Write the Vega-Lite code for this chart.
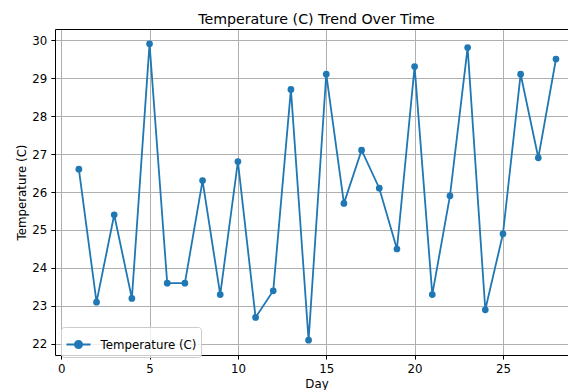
{
  "$schema": "https://vega.github.io/schema/vega-lite/v6.json",
  "autosize": {"type": "none"},
  "padding": {"left": 55, "top": 29, "right": 0, "bottom": 35},
  "width": 513,
  "height": 326,
  "background": "white",
  "title": {
    "text": "Temperature (C) Trend Over Time",
    "font": "DejaVu Sans",
    "fontSize": 14.2,
    "fontWeight": "normal",
    "color": "#000000",
    "baseline": "alphabetic",
    "offset": 7,
    "dx": 5,
    "dy": 16
  },
  "config": {
    "view": {"stroke": null},
    "font": "DejaVu Sans",
    "axis": {
      "labelFont": "DejaVu Sans",
      "labelFontSize": 11.8,
      "labelColor": "#000000",
      "titleFont": "DejaVu Sans",
      "titleFontSize": 11.8,
      "titleFontWeight": "normal",
      "titleColor": "#000000",
      "domainColor": "#000000",
      "domainWidth": 1,
      "tickColor": "#000000",
      "tickWidth": 1,
      "tickSize": 4.1,
      "labelPadding": 4.1,
      "gridColor": "#b0b0b0",
      "gridWidth": 1,
      "gridOpacity": 1
    },
    "legend": {
      "labelFont": "DejaVu Sans",
      "labelFontSize": 11.8,
      "labelColor": "#000000"
    }
  },
  "data": {
    "values": [
      {"Day": 1, "Temp": 26.6},
      {"Day": 2, "Temp": 23.1},
      {"Day": 3, "Temp": 25.4},
      {"Day": 4, "Temp": 23.2},
      {"Day": 5, "Temp": 29.9},
      {"Day": 6, "Temp": 23.6},
      {"Day": 7, "Temp": 23.6},
      {"Day": 8, "Temp": 26.3},
      {"Day": 9, "Temp": 23.3},
      {"Day": 10, "Temp": 26.8},
      {"Day": 11, "Temp": 22.7},
      {"Day": 12, "Temp": 23.4},
      {"Day": 13, "Temp": 28.7},
      {"Day": 14, "Temp": 22.1},
      {"Day": 15, "Temp": 29.1},
      {"Day": 16, "Temp": 25.7},
      {"Day": 17, "Temp": 27.1},
      {"Day": 18, "Temp": 26.1},
      {"Day": 19, "Temp": 24.5},
      {"Day": 20, "Temp": 29.3},
      {"Day": 21, "Temp": 23.3},
      {"Day": 22, "Temp": 25.9},
      {"Day": 23, "Temp": 29.8},
      {"Day": 24, "Temp": 22.9},
      {"Day": 25, "Temp": 24.9},
      {"Day": 26, "Temp": 29.1},
      {"Day": 27, "Temp": 26.9},
      {"Day": 28, "Temp": 29.5}
    ]
  },
  "layer": [
    {
      "mark": {"type": "line", "strokeWidth": 1.8, "clip": true},
      "encoding": {
        "x": {
          "field": "Day",
          "type": "quantitative",
          "scale": {"domain": [-0.35, 28.68], "nice": false, "zero": false},
          "axis": {"values": [0, 5, 10, 15, 20, 25], "title": "Day", "titlePadding": 3, "titleX": 261.5}
        },
        "y": {
          "field": "Temp",
          "type": "quantitative",
          "scale": {"domain": [21.71, 30.29], "nice": false, "zero": false},
          "axis": {"values": [22, 23, 24, 25, 26, 27, 28, 29, 30], "title": "Temperature (C)", "titlePadding": 4}
        },
        "color": {
          "datum": "Temperature (C)",
          "scale": {"range": ["#1f77b4"]},
          "legend": {
            "title": null,
            "orient": "none",
            "legendX": 6,
            "legendY": 298,
            "symbolType": "M-1,0L1,0M0.3,0A0.3,0.3,0,1,1,-0.3,0A0.3,0.3,0,1,1,0.3,0Z",
            "symbolSize": 576,
            "symbolStrokeWidth": 1.8,
            "symbolFillColor": "#1f77b4",
            "symbolStrokeColor": "#1f77b4",
            "labelOffset": 9,
            "strokeColor": "#cccccc",
            "fillColor": "rgba(255,255,255,0.8)",
            "cornerRadius": 3,
            "padding": 4.5,
            "offset": 0
          }
        }
      }
    },
    {
      "mark": {"type": "point", "filled": true, "size": 45, "opacity": 1, "clip": true},
      "encoding": {
        "x": {
          "field": "Day",
          "type": "quantitative",
          "scale": {"domain": [-0.35, 28.68], "nice": false, "zero": false},
          "axis": {"orient": "top", "labels": false, "ticks": false, "grid": false, "title": null, "domain": true, "minExtent": 0, "maxExtent": 0}
        },
        "y": {
          "field": "Temp",
          "type": "quantitative"
        },
        "color": {"datum": "Temperature (C)"}
      }
    }
  ],
  "resolve": {"axis": {"x": "independent"}}
}
